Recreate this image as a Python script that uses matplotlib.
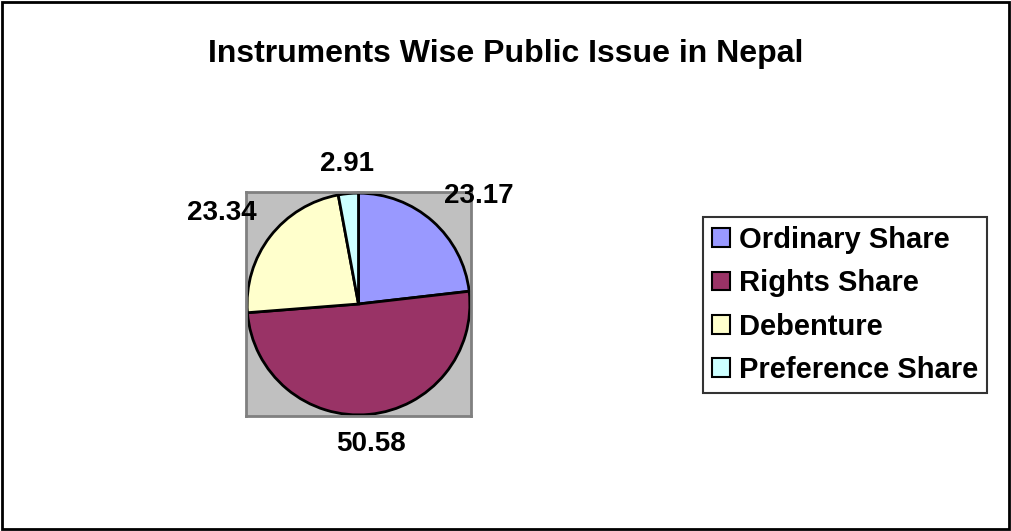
import numpy as np
import matplotlib
matplotlib.use("Agg")
import matplotlib.pyplot as plt
from matplotlib.patches import Rectangle

plt.rcParams['font.family'] = ['Liberation Sans', 'DejaVu Sans']
plt.rcParams['font.weight'] = 'bold'

# data
instruments = ['Ordinary Share', 'Rights Share', 'Debenture', 'Preference Share']
shares = [23.17, 50.58, 23.34, 2.91]
colors = ['#9999FF', '#993366', '#FFFFCC', '#CCFFFF']

fig = plt.figure(figsize=(10.11, 5.31), dpi=100)
fig.patch.set_facecolor('white')

# outer chart border
fig.patches.append(Rectangle((0.002, 0.003), 0.996, 0.994, transform=fig.transFigure,
                             fill=False, edgecolor='black', linewidth=2))

fig.text(0.5, 0.898, 'Instruments Wise Public Issue in Nepal', ha='center', va='center',
         fontsize=23, fontweight='bold')

# plot area (grey square)
ax = fig.add_axes([246 / 1011, 115 / 531, 225 / 1011, 224 / 531])

wedges, texts = ax.pie(shares, colors=colors, startangle=90, counterclock=False,
                       labels=[f'{v:.2f}' for v in shares], labeldistance=1.15,
                       wedgeprops=dict(edgecolor='black', linewidth=2),
                       textprops=dict(fontsize=20, fontweight='bold'), frame=True)
ax.set_facecolor('#C0C0C0')
for s in ax.spines.values():
    s.set_color('#808080')
    s.set_linewidth(2)
ax.set_xlim(-1.01, 1.01)
ax.set_ylim(-1.01, 1.01)
ax.set_aspect('auto')
ax.set_xticks([])
ax.set_yticks([])

# align labels outward like Excel
for t in texts:
    x, y = t.get_position()
    ang = np.arctan2(y, x)
    if abs(np.cos(ang)) < 0.3:
        t.set_ha('center')
    t.set_va('bottom' if y > 0 else 'top')

leg = fig.legend(wedges, instruments, loc='center', bbox_to_anchor=(845 / 1011, 1 - 305 / 531),
                 fontsize=21, frameon=True, fancybox=False, shadow=False,
                 handlelength=0.62, handleheight=0.62, handletextpad=0.3,
                 labelspacing=0.53, borderpad=0.3, borderaxespad=0)
leg.get_frame().set_edgecolor('black')
leg.get_frame().set_linewidth(1.5)
for h in leg.legend_handles:
    h.set_linewidth(1.5)

fig.savefig('out.png', dpi=100)
